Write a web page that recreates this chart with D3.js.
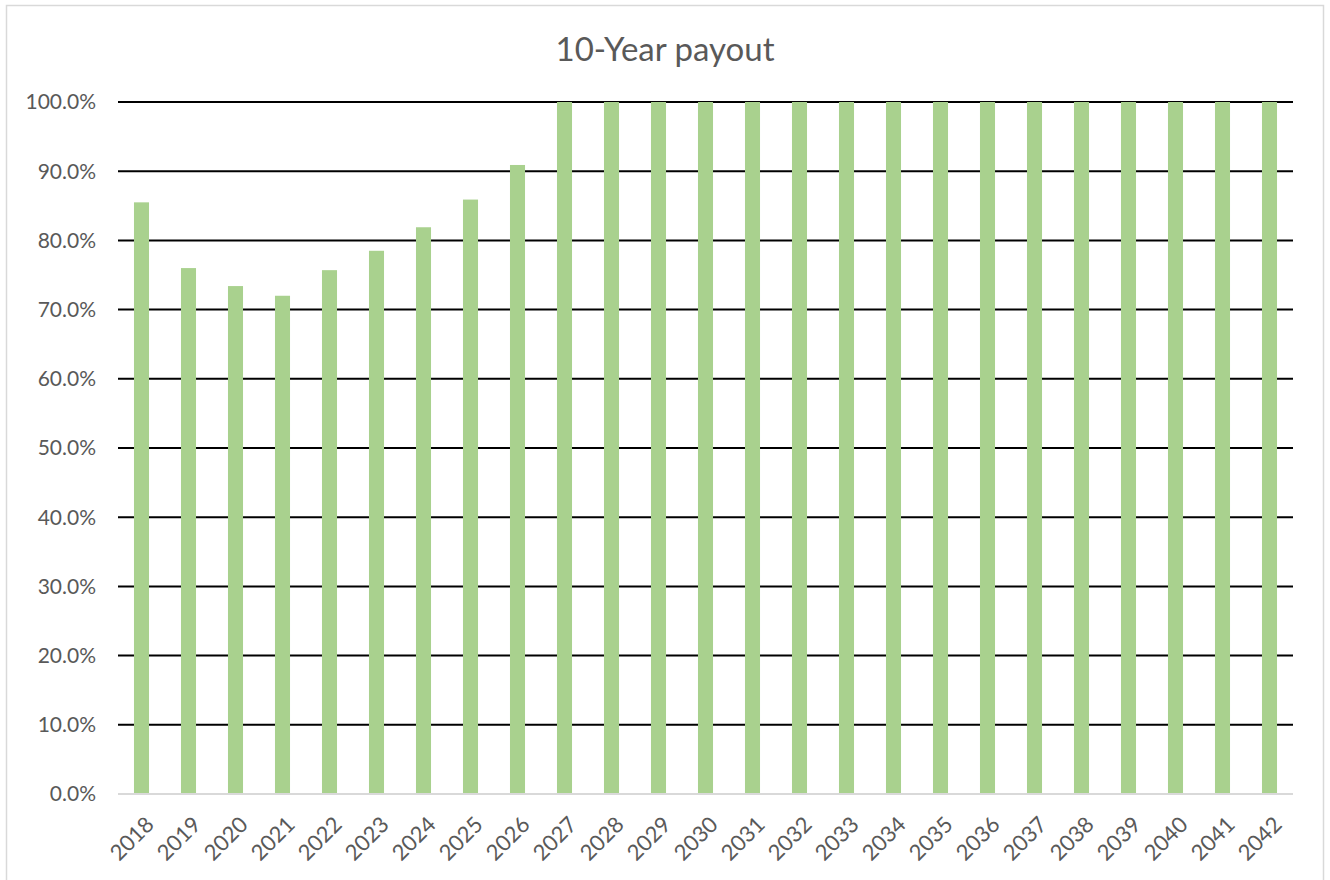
<!DOCTYPE html>
<html>
<head>
<meta charset="utf-8">
<script src="https://cdn.jsdelivr.net/npm/d3@7"></script>
<style>
  body { margin: 0; background: #fff; }
  svg text { font-family: Lato, "Open Sans", sans-serif; fill: #595959; }
</style>
</head>
<body>
<div id="main"></div>
<script>
const title = '10-Year payout';
const years = ['2018', '2019', '2020', '2021', '2022', '2023', '2024', '2025', '2026', '2027',
    '2028', '2029', '2030', '2031', '2032', '2033', '2034', '2035', '2036', '2037',
    '2038', '2039', '2040', '2041', '2042'];
const payout = [85.5, 76.0, 73.4, 72.0, 75.7, 78.5, 81.9, 85.9, 90.9, 100,
    100, 100, 100, 100, 100, 100, 100, 100, 100, 100,
    100, 100, 100, 100, 100];
const yTicks = [0, 10, 20, 30, 40, 50, 60, 70, 80, 90, 100];

const svgW = 1330, svgH = 880,
    pad = { top: 102, left: 118, bottom: 86, right: 37 };

const svg = d3.select('div#main').append('svg')
    .attr('width', svgW)
    .attr('height', svgH);

// chart border
svg.append('rect')
    .attr('x', 6.5).attr('y', 5.5)
    .attr('width', 1317).attr('height', 890)
    .attr('fill', 'none')
    .attr('stroke', '#d9d9d9')
    .attr('stroke-width', 1.5);

const x = d3.scaleBand()
    .domain(years)
    .range([pad.left, svgW - pad.right])
    .paddingInner(0.68)
    .paddingOuter(0.34);

const y = d3.scaleLinear()
    .domain([0, 100])
    .range([svgH - pad.bottom, pad.top]);

svg.append('text')
    .attr('x', 665)
    .attr('y', 61)
    .attr('text-anchor', 'middle')
    .attr('font-size', 33)
    .text(title);

// gridlines
svg.append('g')
    .selectAll('line')
    .data(yTicks.filter(d => d > 0))
    .enter()
    .append('line')
    .attr('x1', pad.left)
    .attr('x2', svgW - pad.right)
    .attr('y1', d => y(d))
    .attr('y2', d => y(d))
    .attr('stroke', '#000')
    .attr('stroke-width', 2);

// y labels
svg.append('g')
    .selectAll('text')
    .data(yTicks)
    .enter()
    .append('text')
    .attr('x', 96)
    .attr('y', d => y(d))
    .attr('dy', '0.35em')
    .attr('text-anchor', 'end')
    .attr('font-size', 21)
    .text(d => d3.format('.1f')(d) + '%');

svg.selectAll('rect.bar')
    .data(payout)
    .enter()
    .append('rect')
    .attr('class', 'bar')
    .attr('x', (d, i) => x(years[i]))
    .attr('y', d => y(d))
    .attr('width', x.bandwidth())
    .attr('height', d => y(0) - y(d))
    .attr('fill', '#a9d18e');

// baseline
svg.append('line')
    .attr('x1', pad.left)
    .attr('x2', svgW - pad.right)
    .attr('y1', y(0))
    .attr('y2', y(0))
    .attr('stroke', '#d9d9d9')
    .attr('stroke-width', 2);

// x labels
svg.append('g')
    .selectAll('text')
    .data(years)
    .enter()
    .append('text')
    .attr('transform', d => 'translate(' + (x(d) + x.bandwidth() / 2 + 3) + ',' + (y(0) + 21) + ') rotate(-45)')
    .attr('text-anchor', 'end')
    .attr('dy', '0.7em')
    .attr('font-size', 22)
    .text(d => d);
</script>
</body>
</html>
